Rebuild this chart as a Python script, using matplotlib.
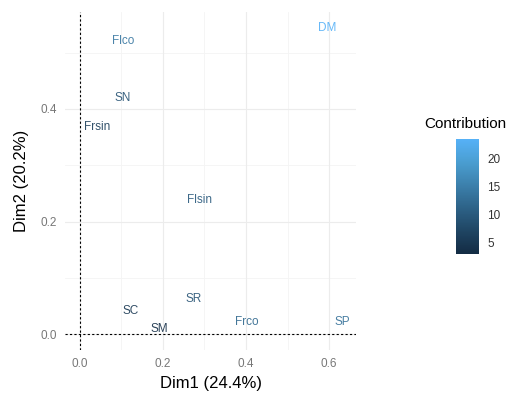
import matplotlib
matplotlib.use("Agg")
import matplotlib.pyplot as plt
import numpy as np
from matplotlib.colors import LinearSegmentedColormap, Normalize
from matplotlib.cm import ScalarMappable

plt.rcParams['font.family'] = ['Liberation Sans', 'DejaVu Sans']

labels = ["DM", "Flco", "SN", "Frsin", "Flsin", "SR", "SC", "SM", "Frco", "SP"]
dim1 = [0.595, 0.103, 0.102, 0.042, 0.287, 0.275, 0.123, 0.190, 0.403, 0.632]
dim2 = [0.544, 0.520, 0.420, 0.367, 0.238, 0.062, 0.042, 0.010, 0.021, 0.021]
contrib = [23.4, 14.0, 9.0, 6.0, 10.0, 9.0, 5.0, 3.5, 12.0, 13.0]

xticks = [0.0, 0.2, 0.4, 0.6]
yticks = [0.0, 0.2, 0.4]
cbar_ticks = [5, 10, 15, 20]

# ggplot-like low->high gradient (approx Lab interpolation)
cmap = LinearSegmentedColormap.from_list(
    "gg", ["#132B43", "#1F4563", "#2D6287", "#3C80AC", "#4A9ED1", "#56B1F7"])
norm = Normalize(vmin=3.0, vmax=23.4)

fig = plt.figure(figsize=(5.09, 3.94), dpi=100)
W, H = 509, 394
ax = fig.add_axes([65 / W, 44 / H, (356 - 65) / W, (382 - 44) / H])

ax.set_xlim(-0.036, 0.665)
ax.set_ylim(-0.028, 0.572)

# grids
for v in [0.1, 0.3, 0.5]:
    ax.axvline(v, color="#f4f4f4", lw=0.6, zorder=0)
    ax.axhline(v, color="#f4f4f4", lw=0.6, zorder=0)
ax.grid(True, color="#ececec", lw=0.8, zorder=0)
ax.set_axisbelow(True)

ax.axhline(0, color="black", lw=0.8, ls=(0, (2, 2)), zorder=1)
ax.axvline(0, color="black", lw=0.8, ls=(0, (2, 2)), zorder=1)

for lab, x, y, c in zip(labels, dim1, dim2, contrib):
    ax.text(x, y, lab, color=cmap(norm(c)), fontsize=8.5, ha="center", va="center",
            alpha=0.9, zorder=3)

ax.set_xticks(xticks)
ax.set_yticks(yticks)
ax.set_xticklabels([f"{v:.1f}" for v in xticks])
ax.set_yticklabels([f"{v:.1f}" for v in yticks])
ax.tick_params(axis="both", length=0, labelsize=8.5, labelcolor="#777777", pad=6)
for s in ax.spines.values():
    s.set_visible(False)
ax.set_xlabel("Dim1 (24.4%)", fontsize=12, labelpad=4)
ax.set_ylabel("Dim2 (20.2%)", fontsize=12, labelpad=8)

# colorbar
cax = fig.add_axes([456 / W, (394 - 254) / H, 23 / W, (254 - 139) / H])
sm = ScalarMappable(norm=norm, cmap=cmap)
cb = fig.colorbar(sm, cax=cax, ticks=cbar_ticks)
cb.outline.set_visible(False)
cb.ax.tick_params(length=4, color="white", width=0.8, labelsize=8.5, labelcolor="#333333", pad=2)
cax.set_title("Contribution", fontsize=11, pad=8, x=0.4)

fig.savefig("out.png", dpi=100, facecolor="white")
